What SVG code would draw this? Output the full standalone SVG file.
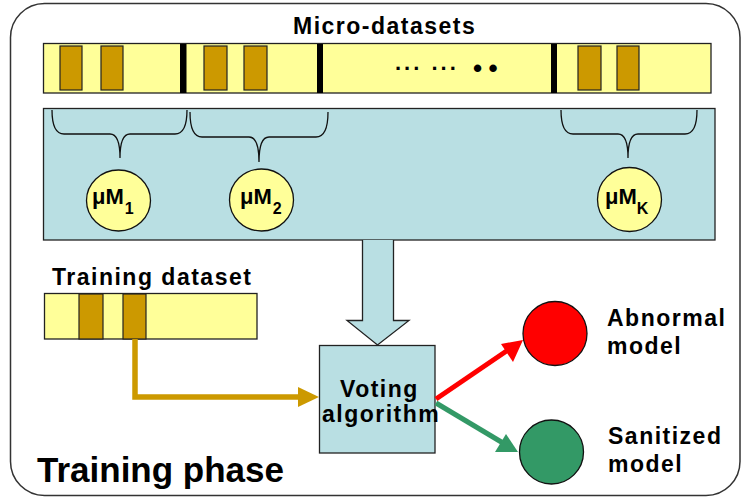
<svg xmlns="http://www.w3.org/2000/svg" width="741" height="497" viewBox="0 0 741 497">
  <style>
    text { font-family: "Liberation Sans", Arial, sans-serif; font-weight: bold; fill: #000; }
    .lbl { font-size: 23px; letter-spacing: 1.5px; }
    .um { font-size: 22px; }
    .sub { font-size: 16px; }
    .bar { fill: #FFFF99; stroke: #222; stroke-width: 1.3; }
    .blk { fill: #CC9900; stroke: #222; stroke-width: 1.2; }
    .sep { fill: #000; }
    .panel { fill: #B9DFE3; stroke: #222; stroke-width: 1.3; }
    .brace { fill: none; stroke: #111; stroke-width: 1.3; }
    .mcirc { fill: #FFFF99; stroke: #111; stroke-width: 1.3; }
  </style>

  <!-- phase frame -->
  <rect x="10.5" y="3.5" width="729.5" height="492" rx="34" ry="34" fill="#fff" stroke="#333" stroke-width="1.5"/>

  <text x="293" y="34" class="lbl">Micro-datasets</text>

  <!-- micro-dataset strip -->
  <g id="micro-datasets">
    <rect x="43.5" y="43.5" width="667.5" height="49.5" class="bar"/>
    <rect x="60" y="46" width="22" height="44" class="blk"/>
    <rect x="101" y="46" width="22" height="44" class="blk"/>
    <rect x="204" y="46" width="23" height="44" class="blk"/>
    <rect x="244" y="46" width="23" height="44" class="blk"/>
    <rect x="578" y="46" width="23" height="44" class="blk"/>
    <rect x="617" y="46" width="22" height="44" class="blk"/>
    <rect x="180" y="44" width="6.5" height="49" class="sep"/>
    <rect x="317" y="44" width="6" height="49" class="sep"/>
    <rect x="551" y="44" width="6" height="49" class="sep"/>
    <text x="395" y="70" style="font-size:22px; letter-spacing:3px;">... ...</text>
    <text x="473" y="77" style="font-size:26px; letter-spacing:6.5px;">••</text>
  </g>

  <!-- micro-model panel -->
  <g id="micro-models">
    <rect x="43.5" y="108.5" width="671.5" height="131.5" class="panel"/>
    <path class="brace" d="M52,110 Q52,134 64,134 H110 Q120,134 120,158 Q120,134 130,134 H175 Q187,134 187,110"/>
    <path class="brace" d="M190,112 Q190,137 202,137 H249 Q259,137 259,162 Q259,137 269,137 H316 Q328,137 328,112"/>
    <path class="brace" d="M561,110 Q561,134 573,134 H618 Q628,134 628,158 Q628,134 638,134 H685 Q697,134 697,110"/>
  </g>

  <g id="uM1">
    <ellipse cx="118.5" cy="200.5" rx="32" ry="30.5" class="mcirc"/>
    <text x="92" y="204" class="um">μM<tspan class="sub" dx="1" dy="10">1</tspan></text>
  </g>
  <g id="uM2">
    <ellipse cx="261.5" cy="200" rx="32" ry="31" class="mcirc"/>
    <text x="240" y="204" class="um">μM<tspan class="sub" dx="1" dy="10">2</tspan></text>
  </g>
  <g id="uMK">
    <ellipse cx="629.5" cy="199.5" rx="32" ry="32" class="mcirc"/>
    <text x="605" y="204" class="um">μM<tspan class="sub" dx="0" dy="10">K</tspan></text>
  </g>

  <!-- training dataset -->
  <g id="training-dataset">
    <text x="52" y="285" class="lbl">Training dataset</text>
    <rect x="44.5" y="293.5" width="212.5" height="45.5" class="bar"/>
    <rect x="79" y="294" width="24" height="45" class="blk"/>
    <rect x="123" y="294" width="23" height="45" class="blk"/>
  </g>

  <!-- voting algorithm -->
  <g id="voting">
    <rect x="319.5" y="345.5" width="115.5" height="107.5" class="panel"/>
    <text x="340" y="397" class="lbl">Voting</text>
    <text x="322" y="422" class="lbl">algorithm</text>
  </g>

  <!-- outcome models -->
  <g id="abnormal-model">
    <circle cx="555" cy="333.5" r="32" fill="#FF0000" stroke="#111" stroke-width="1.3"/>
    <text x="607" y="326" class="lbl">Abnormal</text>
    <text x="607" y="354" class="lbl">model</text>
  </g>
  <g id="sanitized-model">
    <circle cx="551.5" cy="452" r="32" fill="#339966" stroke="#111" stroke-width="1.3"/>
    <text x="608" y="444" class="lbl">Sanitized</text>
    <text x="608" y="472" class="lbl">model</text>
  </g>

  <!-- connectors -->
  <g id="connectors">
    <!-- block arrow: micro-models feed the vote -->
    <path d="M362.5,240 V320.5 H347 L377.5,345 L409,320.5 H393.5 V240" fill="#B9DFE3" stroke="#222" stroke-width="1.3"/>
    <!-- training data into the vote -->
    <path d="M135,339 V397 H300" fill="none" stroke="#CC9900" stroke-width="5.5"/>
    <polygon points="298,387 319,397 298,407" fill="#CC9900"/>
    <!-- vote to abnormal -->
    <line x1="436" y1="399" x2="508" y2="350" stroke="#FF0000" stroke-width="5"/>
    <polygon points="523,340 513,362 501,344" fill="#FF0000"/>
    <!-- vote to sanitized -->
    <line x1="436" y1="403" x2="503" y2="443" stroke="#339966" stroke-width="5"/>
    <polygon points="518,452 495,452 506,434" fill="#339966"/>
  </g>

  <text x="37" y="482" style="font-size:35px;">Training phase</text>
</svg>
